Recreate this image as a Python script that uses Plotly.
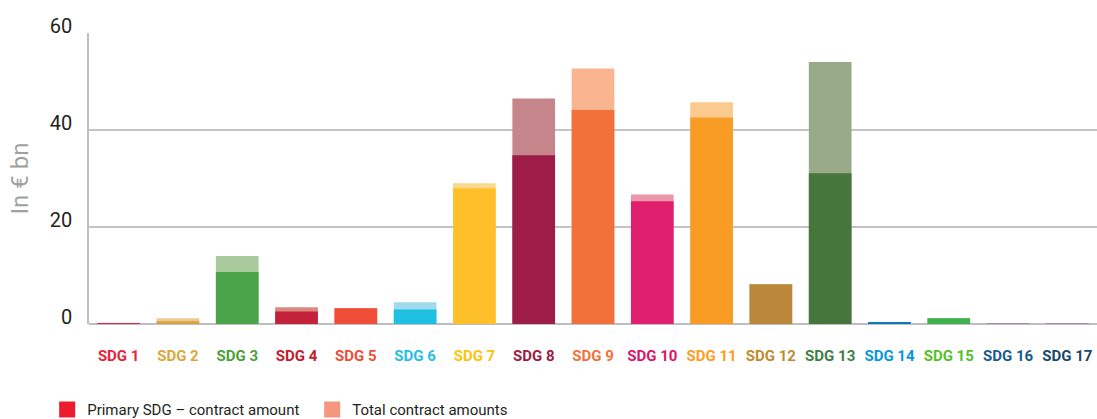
import plotly.graph_objects as go

# SDG contract amounts, EUR bn
categories = [f"SDG {i}" for i in range(1, 18)]
primary = [0.1, 0.55, 10.7, 2.6, 3.25, 3.0, 28.0, 34.8, 44.1, 25.3, 42.6, 8.2, 31.1, 0.35, 1.2, 0.0, 0.0]
total = [0.2, 1.2, 14.0, 3.45, 3.25, 4.5, 29.0, 46.5, 52.7, 26.7, 45.7, 8.2, 54.0, 0.35, 1.2, 0.15, 0.15]

# official SDG colours and lighter tints for the total amounts
sdg_colors = ["#E5243B", "#D9A13D", "#4BA449", "#C4223A", "#EF4D37", "#20C0E0",
              "#FEC02A", "#9E1C48", "#F2703A", "#E11F6F", "#F89C25", "#BA883A",
              "#46763C", "#0E78BB", "#3FB14A", "#1A5A8C", "#1F3A6E"]
light_colors = ["#E8808A", "#EBCB92", "#A8CA9C", "#D98A80", "#F4A094", "#A0DAEE",
                "#FBD98A", "#C5858B", "#F9B58F", "#EC96AA", "#FBCA8E", "#D6B67E",
                "#98AA87", "#7FB8DE", "#9ED8A0", "#A98AA5", "#A98AA5"]
label_colors = ["#E5243B", "#DDA63A", "#4C9F38", "#C5192D", "#EF4D37", "#26BDE2",
                "#FCC30B", "#A21942", "#F2703A", "#DD1367", "#FD9D24", "#BF8B2E",
                "#3F7E44", "#0A97D9", "#56C02B", "#1A5A8C", "#19486A"]

yticks = [0, 20, 40, 60]
legend_names = ["Primary SDG – contract amount", "Total contract amounts"]
legend_colors = ["#EC1C2D", "#F4977F"]

FONT = "Roboto, Liberation Sans, sans-serif"

fig = go.Figure()
fig.add_trace(go.Bar(x=categories, y=total, marker=dict(color=light_colors, line=dict(width=0)),
                     width=0.72, showlegend=False, hoverinfo="x+y"))
fig.add_trace(go.Bar(x=categories, y=primary, marker=dict(color=sdg_colors, line=dict(width=0)),
                     width=0.72, showlegend=False, hoverinfo="x+y"))
# legend swatches
for name, col in zip(legend_names, legend_colors):
    fig.add_trace(go.Scatter(x=[None], y=[None], mode="markers", name=name,
                             marker=dict(symbol="square", size=16, color=col, line=dict(width=0))))

ticktext = [f'<span style="color:{c}"><b>{t}</b></span>' for t, c in zip(categories, label_colors)]

fig.update_layout(
    width=1097, height=419,
    margin=dict(l=89, r=0, t=33, b=95),
    barmode="overlay",
    plot_bgcolor="white", paper_bgcolor="white",
    font=dict(family=FONT, color="#231F20"),
    showlegend=True,
    legend=dict(orientation="h", xref="container", yref="container",
                x=0.043, y=0.022, xanchor="left", yanchor="middle",
                font=dict(size=15, color="#231F20"), itemwidth=30,
                entrywidth=220, traceorder="normal"),
    xaxis=dict(tickmode="array", tickvals=categories, ticktext=ticktext,
               tickfont=dict(size=15, family=FONT), ticks="outside", ticklen=0,
               ticklabelstandoff=18, showgrid=False, showline=False,
               range=[-0.5, 16.5], fixedrange=True),
    yaxis=dict(range=[0, 60], tickvals=yticks, tickfont=dict(size=20, color="#231F20"),
               showgrid=True, gridcolor="#C3C3C8", gridwidth=1.5,
               zeroline=True, zerolinecolor="#BDBDC3", zerolinewidth=2,
               showline=True, linecolor="#BDBDC3", linewidth=1.5,
               ticks="", ticklabelstandoff=11, ticklabelshift=-7,
               title=dict(text="In € bn", font=dict(size=24, color="#A0A0A0"), standoff=14)),
)

fig.write_html("out.html")
